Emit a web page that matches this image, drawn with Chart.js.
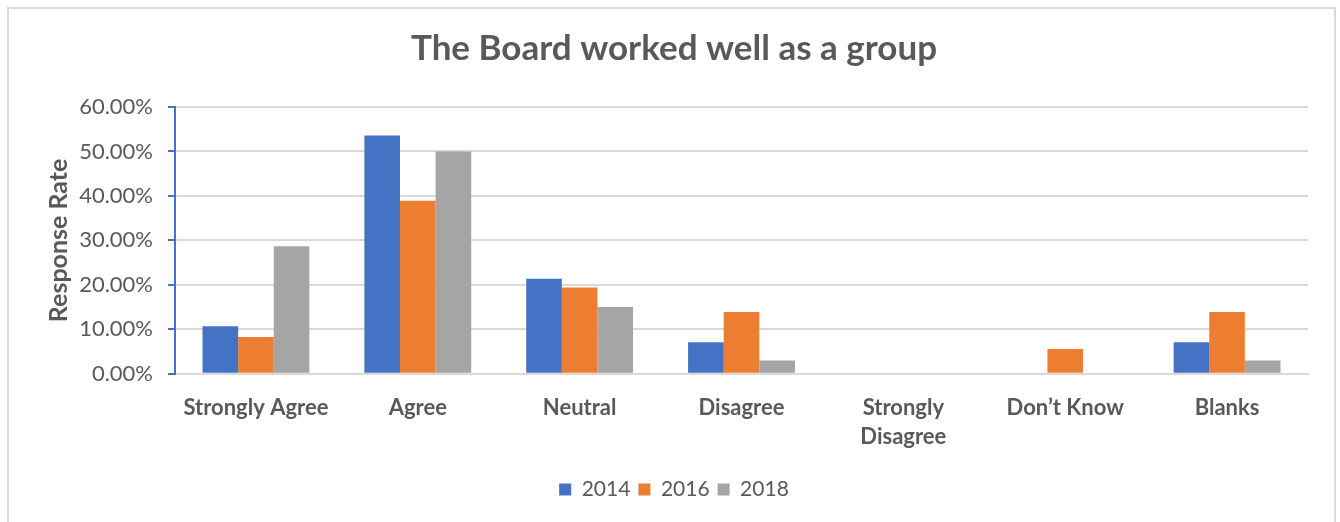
<!DOCTYPE html>
<html>
<head>
<meta charset="utf-8">
<script src="https://cdn.jsdelivr.net/npm/chart.js@4"></script>
<style>
  html, body { margin: 0; padding: 0; background: #fff; overflow: hidden; }
  #frame { position: absolute; left: 7px; top: 7px; width: 1329px; height: 540px; border: 2px solid #d9d9d9; box-sizing: border-box; }
  #wrap { position: absolute; left: 0; top: 0; width: 1340px; height: 522px; }
</style>
</head>
<body>
<div id="frame"></div>
<div id="wrap"><canvas id="chart"></canvas></div>
<script>
const categories = ['Strongly Agree', 'Agree', 'Neutral', 'Disagree', ['Strongly', 'Disagree'], 'Don\u2019t Know', 'Blanks'];
const years = ['2014', '2016', '2018'];
const values2014 = [10.7, 53.6, 21.4, 7.1, 0, 0, 7.1];
const values2016 = [8.3, 38.9, 19.4, 13.9, 0, 5.6, 13.9];
const values2018 = [28.7, 50.0, 15.0, 3.0, 0, 0, 3.0];
const colors = ['#4472C4', '#ED7D31', '#A5A5A5'];

const textColor = '#595959';
const fontFamily = 'Lato, "Open Sans", sans-serif';

const ctx = document.getElementById('chart').getContext('2d');
new Chart(ctx, {
  type: 'bar',
  data: {
    labels: categories,
    datasets: [values2014, values2016, values2018].map((vals, i) => ({
      label: years[i],
      data: vals,
      backgroundColor: colors[i],
      borderWidth: 0,
      barPercentage: 1,
      categoryPercentage: 0.66
    }))
  },
  options: {
    responsive: true,
    maintainAspectRatio: false,
    animation: false,
    layout: { padding: { left: 40, right: 32, top: 12, bottom: 12 } },
    plugins: {
      title: {
        display: true,
        text: 'The Board worked well as a group',
        color: textColor,
        font: { family: fontFamily, size: 35, weight: 'bold' },
        padding: { top: 16, bottom: 37 }
      },
      legend: {
        position: 'bottom',
        labels: {
          color: textColor,
          font: { family: fontFamily, size: 21 },
          boxWidth: 12,
          boxHeight: 12,
          padding: 8
        }
      },
      tooltip: { enabled: false }
    },
    scales: {
      x: {
        grid: { display: false, drawTicks: false },
        border: { color: '#d9d9d9', width: 2 },
        ticks: {
          color: textColor,
          font: { family: fontFamily, size: 22, weight: 'bold', lineHeight: 1.3 },
          padding: 20,
          maxRotation: 0
        }
      },
      y: {
        min: 0,
        max: 60,
        afterFit: scale => { scale.width = 135; },
        ticks: {
          stepSize: 10,
          color: textColor,
          font: { family: fontFamily, size: 22 },
          padding: 15,
          callback: v => v.toFixed(2) + '%'
        },
        grid: { color: '#d9d9d9', lineWidth: 2, tickLength: 7, tickColor: '#4472C4' },
        border: { color: '#4472C4', width: 2 },
        title: {
          display: true,
          text: 'Response Rate',
          color: textColor,
          font: { family: fontFamily, size: 25, weight: 'bold' }
        }
      }
    }
  }
});
</script>
</body>
</html>
